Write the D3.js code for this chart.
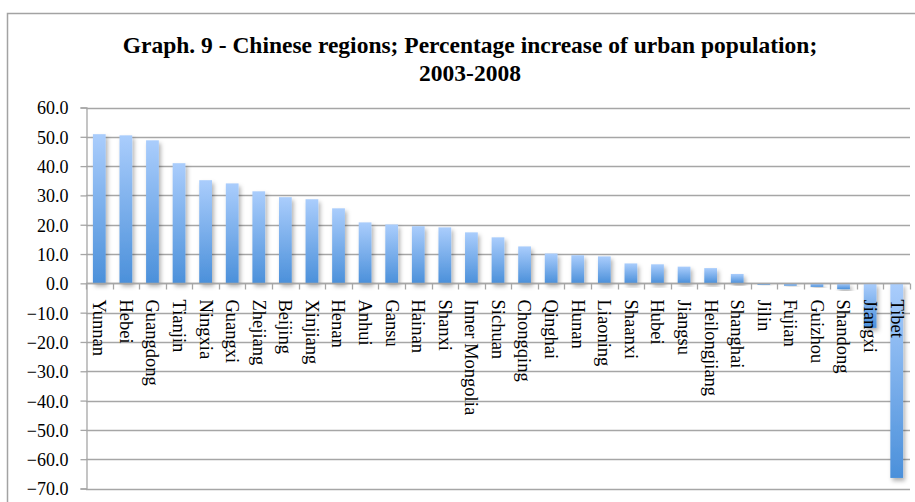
<!DOCTYPE html>
<html>
<head>
<meta charset="utf-8">
<script src="https://cdn.jsdelivr.net/npm/d3@7/dist/d3.min.js"></script>
<style>
  html, body { margin: 0; padding: 0; background: #fff; }
  svg { display: block; }
  text { font-family: "Liberation Serif", "Times New Roman", serif; fill: #000; }
</style>
</head>
<body>
<svg id="chart" width="915" height="502"></svg>
<script>
// Regions, ordered by percentage increase of urban population 2003-2008
const regions = ["Yunnan", "Hebei", "Guangdong", "Tianjin", "Ningxia", "Guangxi", "Zhejiang",
  "Beijing", "Xinjiang", "Henan", "Anhui", "Gansu", "Hainan", "Shanxi", "Inner Mongolia",
  "Sichuan", "Chongqing", "Qinghai", "Hunan", "Liaoning", "Shaanxi", "Hubei", "Jiangsu",
  "Heilongjiang", "Shanghai", "Jilin", "Fujian", "Guizhou", "Shandong", "Jiangxi", "Tibet"];
const increase = [50.9, 50.5, 48.8, 41.0, 35.2, 34.1, 31.4, 29.4, 28.7, 25.6, 20.8, 20.1,
  19.5, 19.1, 17.4, 15.7, 12.6, 10.2, 9.6, 9.2, 6.8, 6.5, 5.7, 5.2, 3.2, -0.5, -0.8, -1.2,
  -2.0, -15.2, -66.4];
const yTicks = [60, 50, 40, 30, 20, 10, 0, -10, -20, -30, -40, -50, -60, -70];
const titleLines = ["Graph. 9 - Chinese regions; Percentage increase of urban population;", "2003-2008"];

const svg = d3.select("#chart");
const W = 915, H = 502;
const plot = { left: 86, right: 910, top: 107.5, bottom: 488.5 };

// outer chart frame
svg.append("rect")
  .attr("x", 7.5).attr("y", 13.5)
  .attr("width", W + 20).attr("height", H + 20)
  .attr("fill", "#fff").attr("stroke", "#a3a3a3").attr("stroke-width", 1.5);

// title
svg.append("g").selectAll("text").data(titleLines).join("text")
  .attr("x", 470)
  .attr("y", (d, i) => 53 + i * 28)
  .attr("text-anchor", "middle")
  .attr("font-size", 23.5)
  .attr("font-weight", "bold")
  .text(d => d);

const x = d3.scaleBand().domain(regions).range([plot.left, plot.right]).paddingInner(0.52).paddingOuter(0.26);
const y = d3.scaleLinear().domain([-70, 60]).range([plot.bottom, plot.top]);

// horizontal gridlines
svg.append("g").selectAll("line").data(yTicks).join("line")
  .attr("x1", plot.left).attr("x2", plot.right)
  .attr("y1", d => Math.round(y(d)) + 0.5).attr("y2", d => Math.round(y(d)) + 0.5)
  .attr("stroke", "#a6a6a6").attr("stroke-width", 1.3);

// value axis
const yAxis = svg.append("g")
  .attr("transform", `translate(${plot.left + 0.5},0)`)
  .call(d3.axisLeft(y).tickValues(yTicks).tickFormat(d3.format(".1f")).tickSize(6).tickPadding(12));
yAxis.select(".domain").attr("stroke", "#a6a6a6").attr("stroke-width", 1.3);
yAxis.selectAll(".tick line").attr("stroke", "#a6a6a6").attr("stroke-width", 1.3);
yAxis.selectAll(".tick text")
  .attr("font-size", 18).attr("fill", "#000")
  .attr("dy", "0.36em");

// bar gradient and shadow
const defs = svg.append("defs");
const grad = defs.append("linearGradient").attr("id", "barFill")
  .attr("x1", 0).attr("y1", 0).attr("x2", 0).attr("y2", 1);
grad.append("stop").attr("offset", "0%").attr("stop-color", "#aacdfc");
grad.append("stop").attr("offset", "100%").attr("stop-color", "#4b90da");
const shadow = defs.append("filter").attr("id", "barShadow")
  .attr("x", "-50%").attr("y", "-10%").attr("width", "200%").attr("height", "130%");
shadow.append("feDropShadow").attr("dx", 2).attr("dy", 3).attr("stdDeviation", 2)
  .attr("flood-color", "#000").attr("flood-opacity", 0.3);

// bars
svg.append("g").selectAll("rect").data(regions).join("rect")
  .attr("x", d => x(d))
  .attr("width", x.bandwidth())
  .attr("y", (d, i) => y(Math.max(0, increase[i])))
  .attr("height", (d, i) => Math.abs(y(increase[i]) - y(0)))
  .attr("fill", "url(#barFill)")
  .attr("filter", "url(#barShadow)");

// category axis at zero with tick marks between categories
const zeroY = Math.round(y(0)) + 0.5;
const bounds = d3.range(regions.length + 1).map(i => plot.left + i * (plot.right - plot.left) / regions.length);
const cat = svg.append("g");
cat.append("line").attr("x1", plot.left).attr("x2", plot.right)
  .attr("y1", zeroY).attr("y2", zeroY)
  .attr("stroke", "#a6a6a6").attr("stroke-width", 1.3);
cat.selectAll("line.tk").data(bounds).join("line").attr("class", "tk")
  .attr("x1", d => Math.round(d) + 0.5).attr("x2", d => Math.round(d) + 0.5)
  .attr("y1", zeroY).attr("y2", zeroY + 6)
  .attr("stroke", "#a6a6a6").attr("stroke-width", 1.3);

// rotated category labels
cat.selectAll("text").data(regions).join("text")
  .attr("transform", d => `translate(${x(d) + x.bandwidth() / 2},${zeroY + 16}) rotate(90)`)
  .attr("dy", "0.33em")
  .attr("font-size", 18.5)
  .text(d => d);
</script>
</body>
</html>
